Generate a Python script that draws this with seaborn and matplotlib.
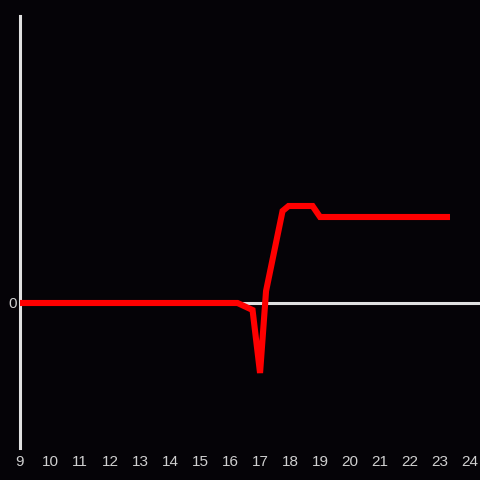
import matplotlib
matplotlib.use("Agg")
import matplotlib.pyplot as plt
import seaborn as sns
import pandas as pd

# hour of day and value
hours = [9.0, 16.25, 16.75, 17.0, 17.2, 17.75, 17.95, 18.75, 19.0, 23.33]
values = [0, 0, -7, -70, 12, 92, 97, 97, 86, 86]
tick_hours = list(range(9, 25))

bg = "#050307"
axis_col = "#e0e0e0"
text_col = "#cfcfcf"

sns.set_style("dark")
plt.rcParams['font.family'] = ['Liberation Sans', 'DejaVu Sans']

df = pd.DataFrame({"hour": hours, "value": values})

fig = plt.figure(figsize=(4.8, 4.8), dpi=100, facecolor=bg)
ax = fig.add_axes([20 / 480, 32 / 480, 460 / 480, 432 / 480])
ax.set_facecolor(bg)

ax.axhline(0, color=axis_col, lw=2.2, zorder=1)
sns.lineplot(data=df, x="hour", y="value", ax=ax, color="#ff0000",
             lw=4.4, zorder=3, solid_capstyle="butt", solid_joinstyle="miter")

ax.set_xlim(9, 24.33)
ax.set_ylim(-145, 287)
ax.set_xticks(tick_hours)
ax.set_xticklabels([str(h) for h in tick_hours])
ax.set_yticks([0])
ax.set_yticklabels(["0"])
ax.tick_params(axis="both", length=0, colors=text_col, labelsize=11)
ax.tick_params(axis="x", pad=5)
ax.tick_params(axis="y", pad=2)
ax.set_xlabel("")
ax.set_ylabel("")
ax.grid(False)

for side in ["top", "right", "bottom"]:
    ax.spines[side].set_visible(False)
ax.spines["left"].set_color(axis_col)
ax.spines["left"].set_linewidth(2.2)

fig.savefig("out.png", dpi=100, facecolor=bg)
